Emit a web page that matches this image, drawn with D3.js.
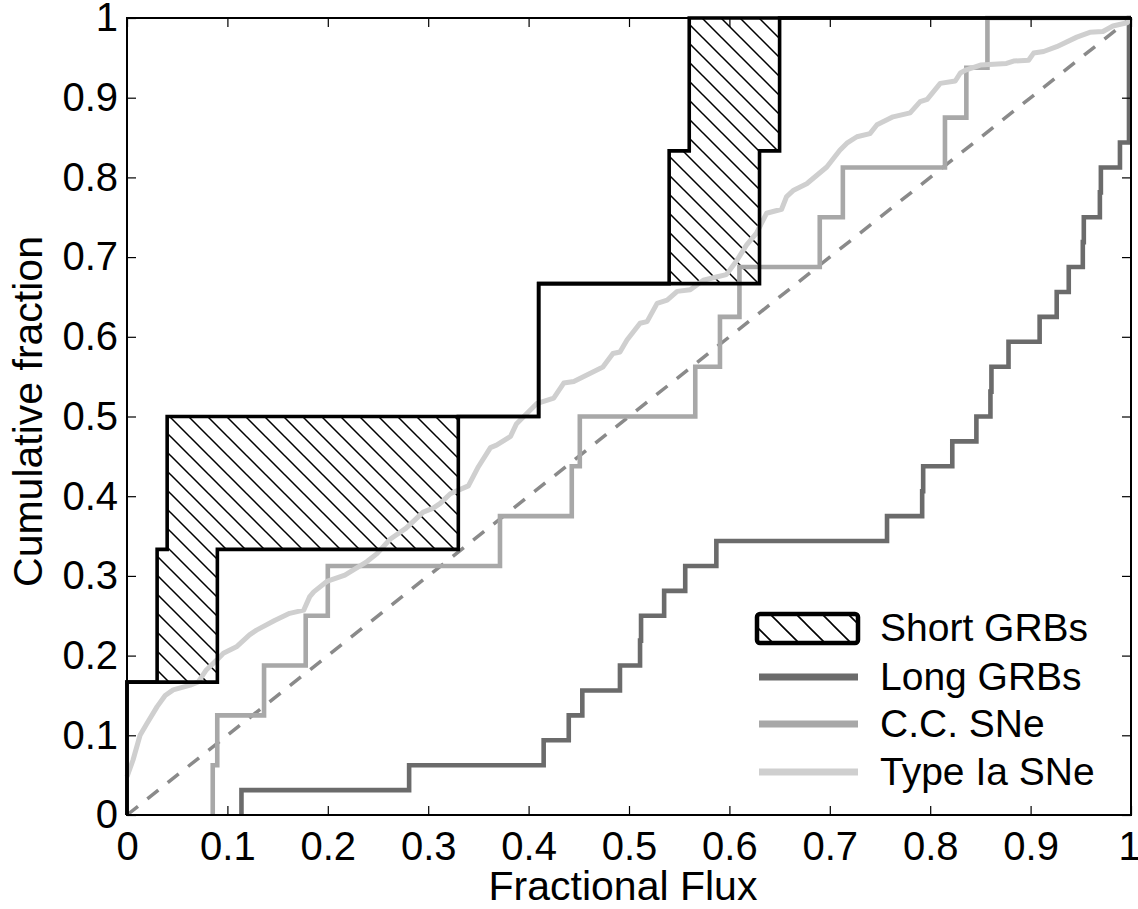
<!DOCTYPE html>
<html>
<head>
<meta charset="utf-8">
<script src="https://cdn.jsdelivr.net/npm/d3@7"></script>
<style>
  html, body { margin: 0; padding: 0; background: #fff; }
  svg { display: block; }
  text { font-family: "Liberation Sans", Arial, Helvetica, sans-serif; fill: #000; }
</style>
</head>
<body>
<div id="chart"></div>
<script>
// ---------------- data ----------------
const xTickValues = [0, 0.1, 0.2, 0.3, 0.4, 0.5, 0.6, 0.7, 0.8, 0.9, 1];
const xTickLabels = ["0", "0.1", "0.2", "0.3", "0.4", "0.5", "0.6", "0.7", "0.8", "0.9", "1"];
const yTickValues = [0, 0.1, 0.2, 0.3, 0.4, 0.5, 0.6, 0.7, 0.8, 0.9, 1];
const yTickLabels = ["0", "0.1", "0.2", "0.3", "0.4", "0.5", "0.6", "0.7", "0.8", "0.9", "1"];

// Short GRBs: two step curves bounding the hatched band (6 objects)
const shortLevels = [1/6, 2/6, 3/6, 4/6, 5/6, 1];
const shortUpperX = [0, 0.03, 0.04, 0.41, 0.54, 0.56];
const shortLowerX = [0, 0.09, 0.33, 0.41, 0.63, 0.65];

// Long GRBs (32 objects): fractional flux where each step occurs
const longX = [0.114, 0.281, 0.415, 0.440, 0.4535, 0.491, 0.511, 0.512, 0.535, 0.556,
               0.587, 0.757, 0.792, 0.793, 0.822, 0.846, 0.860, 0.861, 0.878, 0.909,
               0.926, 0.938, 0.952, 0.953, 0.969, 0.970, 0.989, 0.998, 0.998, 0.998,
               0.998, 0.998];

// Core-collapse SNe (16 objects)
const ccX = [0.0854, 0.0899, 0.1365, 0.178, 0.200, 0.3715, 0.443, 0.451, 0.566, 0.5906,
             0.610, 0.690, 0.713, 0.8147, 0.836, 0.857];

// Type Ia SNe: cumulative curve traced as (flux, fraction)
const iaX = [0, 0.006, 0.013, 0.020, 0.030, 0.038, 0.046, 0.063, 0.071, 0.079, 0.089, 0.096,
             0.109, 0.122, 0.129, 0.147, 0.162, 0.176, 0.182, 0.186, 0.199, 0.217, 0.239,
             0.249, 0.262, 0.278, 0.295, 0.305, 0.312, 0.322, 0.340, 0.350, 0.362, 0.368,
             0.382, 0.388, 0.408, 0.425, 0.435, 0.445, 0.474, 0.484, 0.491, 0.498, 0.511,
             0.518, 0.528, 0.538, 0.548, 0.561, 0.574, 0.587, 0.597, 0.607, 0.617, 0.627,
             0.637, 0.652, 0.657, 0.664, 0.677, 0.697, 0.710, 0.717, 0.727, 0.740, 0.747,
             0.763, 0.780, 0.790, 0.797, 0.810, 0.825, 0.830, 0.836, 0.850, 0.876, 0.883,
             0.898, 0.903, 0.913, 0.926, 0.946, 0.959, 0.972, 0.982, 0.996, 1.0];
const iaY = [0.048, 0.069, 0.100, 0.115, 0.136, 0.150, 0.157, 0.163, 0.167, 0.182, 0.194, 0.203,
             0.211, 0.226, 0.232, 0.244, 0.253, 0.257, 0.274, 0.280, 0.293, 0.301, 0.318,
             0.328, 0.346, 0.360, 0.380, 0.385, 0.391, 0.403, 0.413, 0.437, 0.461, 0.464,
             0.475, 0.491, 0.516, 0.523, 0.542, 0.544, 0.562, 0.579, 0.581, 0.596, 0.617,
             0.619, 0.642, 0.646, 0.657, 0.659, 0.671, 0.675, 0.678, 0.695, 0.715, 0.730,
             0.755, 0.760, 0.776, 0.784, 0.792, 0.813, 0.834, 0.843, 0.851, 0.855, 0.866,
             0.876, 0.881, 0.895, 0.898, 0.918, 0.921, 0.931, 0.935, 0.941, 0.943, 0.946,
             0.947, 0.956, 0.958, 0.964, 0.976, 0.982, 0.983, 0.990, 0.994, 1.0];

const legendLabels = ["Short GRBs", "Long GRBs", "C.C. SNe", "Type Ia SNe"];

// ---------------- layout / style ----------------
const W = 1138, H = 909;
const margin = { left: 127, right: 7, top: 18, bottom: 94 };
const colLong = "#6b6b6b", colCC = "#a8a8a8", colIa = "#cfcfcf", colDiag = "#8a8a8a";
const fontTick = 40, fontTitle = 41, fontLegend = 39;

const svg = d3.select("#chart").append("svg").attr("width", W).attr("height", H);

const x = d3.scaleLinear().domain([0, 1]).range([margin.left, W - margin.right]);
const y = d3.scaleLinear().domain([0, 1]).range([H - margin.bottom, margin.top]);

// hatch patterns
const defs = svg.append("defs");
function hatch(id, s, w) {
  const p = defs.append("pattern").attr("id", id).attr("patternUnits", "userSpaceOnUse")
    .attr("width", s).attr("height", s);
  p.append("path")
    .attr("d", `M0,0L${s},${s}M${-s/2},${s/2}L${s/2},${s*1.5}M${s/2},${-s/2}L${s*1.5},${s/2}`)
    .attr("stroke", "#000").attr("stroke-width", w).attr("fill", "none");
}
hatch("hatchPlot", 19, 1.5);
hatch("hatchLegend", 26, 1.6);

// step helpers
function stepPts(xs, levels, xEnd) {
  const pts = [];
  let prev = 0;
  xs.forEach((xv, i) => { pts.push([xv, prev]); pts.push([xv, levels[i]]); prev = levels[i]; });
  pts.push([xEnd, prev]);
  return pts;
}
const lineLin = d3.line().x(d => x(d[0])).y(d => y(d[1]));

const shortUpper = stepPts(shortUpperX, shortLevels, 1);
const shortLower = stepPts(shortLowerX, shortLevels, 1);

// hatched band
const band = shortUpper.concat(shortLower.slice().reverse());
svg.append("path").attr("d", lineLin(band) + "Z")
  .attr("fill", "url(#hatchPlot)").attr("stroke", "none");

// diagonal
svg.append("path").attr("d", lineLin([[0, 0], [1, 1]]))
  .attr("stroke", colDiag).attr("stroke-width", 3.5).attr("stroke-dasharray", "14,12")
  .attr("fill", "none");

// Long GRBs
const longLevels = longX.map((d, i) => (i + 1) / longX.length);
svg.append("path").attr("d", lineLin(stepPts(longX, longLevels, 1)))
  .attr("stroke", colLong).attr("stroke-width", 4.6).attr("fill", "none");

// C.C. SNe
const ccLevels = ccX.map((d, i) => (i + 1) / ccX.length);
svg.append("path").attr("d", lineLin(stepPts(ccX, ccLevels, 1)))
  .attr("stroke", colCC).attr("stroke-width", 4.6).attr("fill", "none");

// Type Ia
svg.append("path").attr("d", lineLin(iaX.map((d, i) => [d, iaY[i]])))
  .attr("stroke", colIa).attr("stroke-width", 5).attr("fill", "none")
  .attr("stroke-linejoin", "round");

// Short GRB outlines
[shortUpper, shortLower].forEach(pts => {
  svg.append("path").attr("d", lineLin(pts))
    .attr("stroke", "#000").attr("stroke-width", 3.6).attr("fill", "none");
});

// ---------------- axes ----------------
const tickLen = 9;
svg.append("rect").attr("x", x(0)).attr("y", y(1)).attr("width", x(1) - x(0)).attr("height", y(0) - y(1))
  .attr("fill", "none").attr("stroke", "#000").attr("stroke-width", 2);

const axB = d3.axisBottom(x).tickValues(xTickValues).tickSize(-tickLen).tickPadding(17)
  .tickFormat((d, i) => xTickLabels[i]);
const axT = d3.axisTop(x).tickValues(xTickValues).tickSize(-tickLen).tickFormat("");
const axL = d3.axisLeft(y).tickValues(yTickValues).tickSize(-tickLen).tickPadding(9)
  .tickFormat((d, i) => yTickLabels[i]);
const axR = d3.axisRight(y).tickValues(yTickValues).tickSize(-tickLen).tickFormat("");

function styleAxis(g) {
  g.select(".domain").remove();
  g.selectAll(".tick line").attr("stroke", "#000").attr("stroke-width", 1.2);
  g.selectAll(".tick text").attr("font-size", fontTick)
    .attr("font-family", "Liberation Sans, Arial, sans-serif").attr("fill", "#000");
}
const gB = svg.append("g").attr("transform", `translate(0,${y(0)})`).call(axB).call(styleAxis);
gB.selectAll(".tick text").filter((d, i) => i === xTickValues.length - 1).attr("dx", "-2");
svg.append("g").attr("transform", `translate(0,${y(1)})`).call(axT).call(styleAxis);
svg.append("g").attr("transform", `translate(${x(0)},0)`).call(axL).call(styleAxis);
svg.append("g").attr("transform", `translate(${x(1)},0)`).call(axR).call(styleAxis);

// axis titles
svg.append("text").attr("x", (x(0) + x(1)) / 2 - 6).attr("y", 900).attr("text-anchor", "middle")
  .attr("font-size", fontTitle).text("Fractional Flux");
svg.append("text").attr("transform", `translate(42,${(y(0) + y(1)) / 2 - 5}) rotate(-90)`)
  .attr("text-anchor", "middle").attr("font-size", fontTitle).text("Cumulative fraction");

// ---------------- legend ----------------
const lg = svg.append("g");
const lx0 = 757, lx1 = 858, rowY = [628, 677, 724, 772];
lg.append("rect").attr("x", lx0).attr("y", rowY[0] - 14).attr("width", lx1 - lx0).attr("height", 29)
  .attr("rx", 3).attr("fill", "url(#hatchLegend)").attr("stroke", "#000").attr("stroke-width", 4.5);
[[colLong, 1], [colCC, 2], [colIa, 3]].forEach(([c, i]) => {
  lg.append("line").attr("x1", lx0 + 2).attr("x2", lx1).attr("y1", rowY[i]).attr("y2", rowY[i])
    .attr("stroke", c).attr("stroke-width", 7);
});
legendLabels.forEach((t, i) => {
  lg.append("text").attr("x", 880).attr("y", rowY[i] + 13).attr("font-size", fontLegend).text(t);
});
</script>
</body>
</html>
